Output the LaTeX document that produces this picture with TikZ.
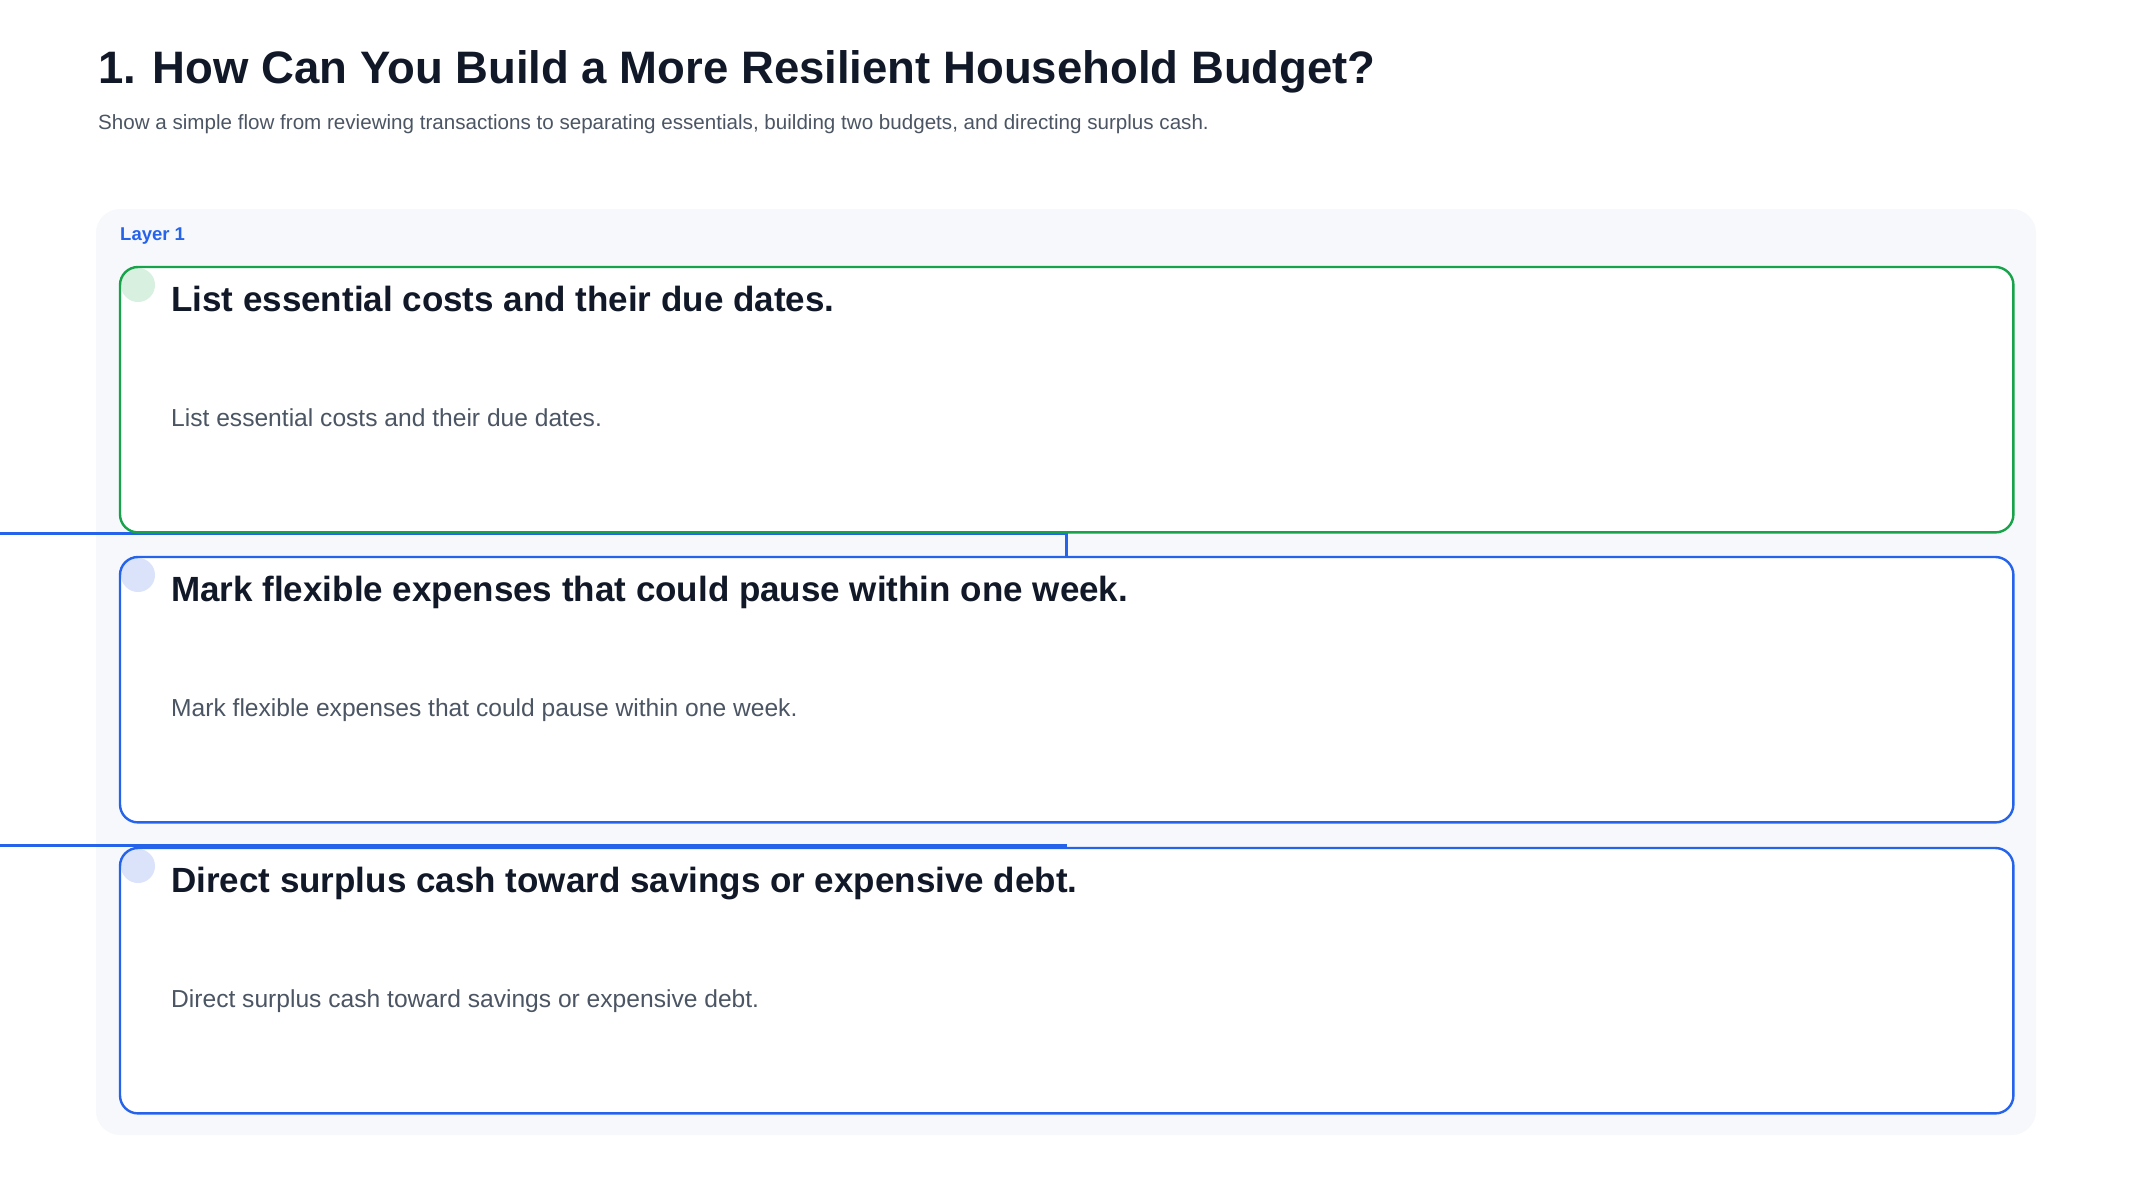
\documentclass[tikz,border=0pt]{standalone}
\usepackage{fontspec}
\setmainfont{Liberation Sans}
\usepackage{xcolor}
\usepackage{tikz}
\usetikzlibrary{arrows.meta, positioning}

\definecolor{inkdark}{RGB}{17,24,39}
\definecolor{inkgray}{RGB}{75,85,99}
\definecolor{panelbg}{RGB}{246,248,251}
\definecolor{stepgreen}{RGB}{22,163,74}
\definecolor{stepblue}{RGB}{37,99,235}
\definecolor{dotgreen}{RGB}{216,240,223}
\definecolor{dotblue}{RGB}{219,227,251}

\begin{document}
\begin{tikzpicture}[x=1pt, y=-1pt,
	card/.style={anchor=north west, minimum width=1893pt, minimum height=265pt,
		inner sep=0pt, fill=white, rounded corners=18pt},
	cardline/.style={line width=2.4pt, rounded corners=18pt},
	cardtitle/.style={anchor=base west, inner sep=0pt, text=inkdark,
		font=\fontsize{35}{42}\selectfont\bfseries},
	carddesc/.style={anchor=base west, inner sep=0pt, text=inkgray,
		font=\fontsize{24.6}{30}\selectfont},
	link/.style={draw=stepblue, line width=3pt}]
				\useasboundingbox (0, 0) rectangle (2133, 1200);

				\node[anchor=base west, inner sep=0pt, text=inkdark,
					font=\fontsize{45.5}{54}\selectfont\bfseries] (title) at (98, 83)
					{1. How Can You Build a More Resilient Household Budget?};
				\node[anchor=base west, inner sep=0pt, text=inkgray,
					font=\fontsize{20.6}{25}\selectfont] (subtitle) at (98, 129.5)
					{Show a simple flow from reviewing transactions to separating essentials, building two budgets, and directing surplus cash.};

				\fill[panelbg, rounded corners=24pt] (96, 209) rectangle (2036, 1135);
				\node[anchor=base west, inner sep=0pt, text=stepblue,
					font=\fontsize{18.5}{22}\selectfont\bfseries] (layer) at (120, 240) {Layer 1};

				\coordinate (b1) at (120, 267);
				\coordinate (b2) at (120, 557);
				\coordinate (b3) at (120, 848);
				\coordinate (in1) at (0, 533);
				\coordinate (in2) at (0, 845.5);

				\node[card] (c1) at (b1) {};
				\node[card] (c2) at (b2) {};
				\node[card] (c3) at (b3) {};

				\draw[link] (in1) -- (in1 -| c1.south) -- (c2.north);
				\draw[link] (in2) -- (in2 -| c2.south);

				\fill[dotgreen] ([shift={(18, 18)}]c1.north west) circle[radius=17pt];
				\fill[dotblue] ([shift={(18, 18)}]c2.north west) circle[radius=17pt];
				\fill[dotblue] ([shift={(18, 18)}]c3.north west) circle[radius=17pt];

				\draw[cardline, stepgreen] (c1.north west) rectangle (c1.south east);
				\draw[cardline, stepblue] (c2.north west) rectangle (c2.south east);
				\draw[cardline, stepblue] (c3.north west) rectangle (c3.south east);

				\node[cardtitle] (t1) at ([shift={(51, 44)}]c1.north west) {List essential costs and their due dates.};
				\node[carddesc] (d1) at ([shift={(51, 159)}]c1.north west) {List essential costs and their due dates.};
				\node[cardtitle] (t2) at ([shift={(51, 44)}]c2.north west) {Mark flexible expenses that could pause within one week.};
				\node[carddesc] (d2) at ([shift={(51, 159)}]c2.north west) {Mark flexible expenses that could pause within one week.};
				\node[cardtitle] (t3) at ([shift={(51, 44)}]c3.north west) {Direct surplus cash toward savings or expensive debt.};
				\node[carddesc] (d3) at ([shift={(51, 159)}]c3.north west) {Direct surplus cash toward savings or expensive debt.};
			\end{tikzpicture}
\end{document}
